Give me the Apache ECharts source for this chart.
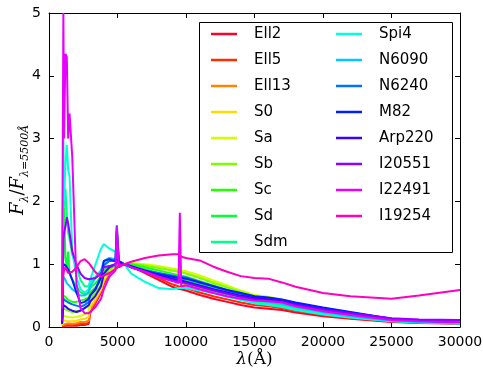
<!DOCTYPE html>
<html><head><meta charset="utf-8">
<script src="https://cdn.jsdelivr.net/npm/echarts@6/dist/echarts.min.js"></script>
<style>html,body{margin:0;padding:0;background:#fff}#c{width:483px;height:370px}</style>
</head><body><div id="c"></div>
<script>
// wavelengths (Angstrom)
const wave = [950,1050,1100,1200,1300,1400,1500,1700,2000,2300,2600,2900,3000,3400,3800,4000,4400,4850,4950,5100,5500,6000,7000,8000,9000,9450,9550,9650,10000,11000,12000,13000,14000,15000,16000,17000,18000,20000,22000,25000,27000,30000];
const names = ['Ell2','Ell5','Ell13','S0','Sa','Sb','Sc','Sd','Sdm','Spi4','N6090','N6240','M82','Arp220','I20551','I22491','I19254'];
const colors = ['#ff0029','#ff2d00','#ff8300','#ffd900','#cfff00','#79ff00','#22ff00','#00ff33','#00ff89','#00ffdf','#00c9ff','#0072ff','#001cff','#3b00ff','#9100ff','#e800ff','#ff00bf'];
const Ell2 = [0.01,0.02,0.02,0.02,0.02,0.02,0.02,0.02,0.02,0.03,0.03,0.05,0.22,0.38,0.55,0.68,0.85,0.93,0.95,0.97,1.00,0.97,0.86,0.75,0.64,0.61,0.61,0.60,0.58,0.51,0.45,0.40,0.35,0.31,0.29,0.27,0.23,0.17,0.13,0.08,0.065,0.05];
const Ell5 = [0.01,0.03,0.03,0.03,0.03,0.03,0.03,0.03,0.04,0.05,0.05,0.07,0.25,0.40,0.57,0.70,0.86,0.93,0.95,0.97,1.00,0.98,0.88,0.78,0.68,0.65,0.65,0.64,0.62,0.55,0.49,0.44,0.39,0.35,0.33,0.30,0.26,0.19,0.14,0.09,0.07,0.055];
const Ell13 = [0.02,0.05,0.05,0.05,0.06,0.06,0.06,0.05,0.06,0.08,0.08,0.10,0.28,0.42,0.58,0.72,0.87,0.94,0.96,0.98,1.00,0.99,0.91,0.83,0.74,0.71,0.70,0.70,0.68,0.61,0.55,0.49,0.44,0.40,0.37,0.34,0.29,0.21,0.16,0.10,0.08,0.06];
const S0 = [0.03,0.10,0.10,0.10,0.10,0.09,0.09,0.09,0.10,0.12,0.13,0.16,0.32,0.45,0.60,0.74,0.88,0.95,0.97,0.98,1.00,1.01,0.98,0.95,0.90,0.88,0.88,0.88,0.86,0.79,0.71,0.63,0.56,0.50,0.47,0.43,0.37,0.28,0.21,0.12,0.09,0.07];
const Sa = [0.04,0.18,0.17,0.17,0.17,0.16,0.16,0.15,0.16,0.18,0.20,0.24,0.38,0.50,0.64,0.77,0.90,0.96,0.98,0.99,1.00,1.02,1.00,0.97,0.93,0.91,0.91,0.90,0.89,0.82,0.74,0.66,0.58,0.51,0.48,0.44,0.38,0.29,0.22,0.13,0.10,0.08];
const Sb = [0.05,0.30,0.29,0.28,0.27,0.26,0.25,0.24,0.25,0.27,0.30,0.33,0.45,0.55,0.68,0.80,0.92,0.97,0.99,1.00,1.00,1.01,0.98,0.94,0.90,0.88,0.88,0.87,0.85,0.78,0.70,0.63,0.56,0.49,0.46,0.42,0.36,0.27,0.20,0.12,0.09,0.07];
const Sc = [0.06,0.50,0.49,0.48,0.45,0.43,0.42,0.40,0.40,0.42,0.44,0.47,0.55,0.63,0.74,0.85,0.94,0.98,1.00,1.00,1.00,1.00,0.95,0.90,0.85,0.83,0.83,0.82,0.80,0.73,0.66,0.59,0.52,0.46,0.43,0.39,0.33,0.25,0.18,0.11,0.08,0.065];
const Sd = [0.08,1.30,1.90,1.10,0.95,1.20,0.85,0.75,0.65,0.55,0.52,0.55,0.62,0.70,0.80,0.90,0.97,1.00,1.02,1.01,1.00,0.98,0.92,0.86,0.80,0.78,0.78,0.77,0.75,0.68,0.62,0.55,0.49,0.43,0.40,0.36,0.31,0.23,0.17,0.10,0.08,0.06];
const Sdm = [0.10,3.00,1.90,2.20,1.80,1.50,1.40,1.15,0.95,0.75,0.65,0.65,0.72,0.80,0.90,1.00,1.05,1.05,1.05,1.02,1.00,0.96,0.88,0.80,0.74,0.72,0.72,0.71,0.70,0.64,0.58,0.52,0.46,0.40,0.37,0.34,0.29,0.22,0.16,0.10,0.08,0.06];
const Spi4 = [0.10,2.50,2.00,2.60,2.90,2.50,2.40,1.20,0.80,0.60,0.55,0.60,0.75,1.00,1.25,1.32,1.25,1.20,1.10,1.02,1.00,0.85,0.72,0.62,0.60,0.62,0.62,0.62,0.62,0.58,0.54,0.48,0.43,0.38,0.35,0.32,0.27,0.20,0.15,0.09,0.07,0.055];
const N6090 = [0.08,0.80,0.78,0.75,0.70,0.68,0.65,0.60,0.55,0.50,0.50,0.55,0.65,0.78,0.90,1.05,1.10,1.08,1.10,1.03,1.00,0.95,0.88,0.82,0.76,0.74,0.74,0.73,0.72,0.66,0.60,0.54,0.48,0.43,0.40,0.37,0.32,0.24,0.17,0.10,0.08,0.06];
const N6240 = [0.06,0.45,0.44,0.42,0.40,0.39,0.38,0.36,0.34,0.32,0.35,0.40,0.50,0.62,0.80,0.98,1.05,1.05,1.62,1.05,1.00,0.96,0.90,0.86,0.82,0.80,0.80,0.80,0.79,0.72,0.65,0.58,0.53,0.48,0.46,0.43,0.38,0.30,0.23,0.13,0.10,0.08];
const M82 = [0.06,1.00,0.99,0.98,0.95,0.92,0.90,0.75,0.55,0.38,0.40,0.45,0.50,0.60,0.80,1.05,1.08,1.05,1.55,1.05,1.00,0.95,0.88,0.84,0.80,0.78,0.78,0.78,0.77,0.71,0.65,0.59,0.54,0.49,0.47,0.44,0.39,0.31,0.24,0.13,0.10,0.08];
const Arp220 = [0.05,0.35,0.34,0.33,0.30,0.29,0.28,0.26,0.24,0.26,0.30,0.35,0.40,0.50,0.65,0.85,0.95,1.00,1.08,1.02,1.00,0.97,0.90,0.83,0.77,0.75,0.75,0.74,0.72,0.66,0.60,0.55,0.50,0.46,0.44,0.41,0.36,0.28,0.22,0.13,0.11,0.09];
const I20551 = [0.10,1.40,1.50,1.60,1.75,1.65,1.50,1.20,1.00,0.85,0.78,0.76,0.76,0.78,0.85,0.95,0.97,1.00,1.05,1.00,1.00,0.95,0.88,0.80,0.74,0.72,0.72,0.71,0.70,0.64,0.58,0.53,0.48,0.44,0.42,0.40,0.35,0.28,0.22,0.14,0.12,0.11];
const I22491 = [0.30,5.00,3.00,4.35,4.30,3.00,3.40,2.70,0.70,0.30,0.22,0.22,0.25,0.32,0.45,0.60,0.80,0.90,1.60,0.95,1.00,0.95,0.88,0.80,0.73,0.70,1.82,0.65,0.66,0.60,0.54,0.49,0.45,0.42,0.41,0.39,0.33,0.25,0.19,0.11,0.09,0.08];
const I19254 = [0.40,0.85,0.90,0.95,0.92,0.86,0.88,0.88,0.95,1.05,1.08,1.02,1.00,0.87,0.80,0.82,0.86,0.92,0.95,0.98,1.00,1.04,1.10,1.14,1.16,1.16,1.15,1.12,1.10,1.06,0.96,0.88,0.81,0.78,0.77,0.71,0.64,0.54,0.49,0.45,0.50,0.59];
const values = [Ell2,Ell5,Ell13,S0,Sa,Sb,Sc,Sd,Sdm,Spi4,N6090,N6240,M82,Arp220,I20551,I22491,I19254];
const xTicks = [0,5000,10000,15000,20000,25000,30000];
const yTicks = [0,1,2,3,4,5];

const chart = echarts.init(document.getElementById('c'), null, {renderer:'canvas'});
const font = 'DejaVu Sans';
const tickCommon = {inside:true, length:5, lineStyle:{color:'#000', width:1}};
const lineCommon = {show:true, onZero:false, lineStyle:{color:'#000', width:1}};
const series = names.map((n,i)=>({
  name:n, type:'line', xAxisIndex:0, yAxisIndex:0,
  data: wave.map((w,j)=>[w, values[i][j]]),
  showSymbol:false, symbol:'none', smooth:false, clip:true,
  lineStyle:{width:2, color:colors[i]}, itemStyle:{color:colors[i]},
  emphasis:{disabled:true}
}));
const legendCommon = {
  orient:'vertical', icon:'rect', itemWidth:26, itemHeight:2.5, itemGap:6,
  textStyle:{fontFamily:font, fontSize:15, color:'#000', lineHeight:20, padding:[0,0,0,12]},
  selectedMode:false, z:20, padding:0
};
chart.setOption({
  animation:false,
  backgroundColor:'#fff',
  grid:{left:49, right:23, top:13, bottom:43, containLabel:false, outerBoundsMode:'none'},
  xAxis:[{
    type:'value', min:xTicks[0], max:xTicks[xTicks.length-1], interval:5000,
    axisLine:lineCommon, axisTick:tickCommon, splitLine:{show:false},
    axisLabel:{fontFamily:font, fontSize:14, color:'#000', margin:8, showMaxLabel:true, showMinLabel:true, hideOverlap:false, formatter:v=>String(v)},
    name:'{g|λ}{n|(Å)}', nameLocation:'middle', nameGap:24, nameMoveOverlap:false,
    nameTextStyle:{rich:{g:{fontFamily:'DejaVu Serif', fontStyle:'italic', fontSize:17, color:'#000'}, n:{fontFamily:'DejaVu Serif', fontSize:17, color:'#000'}}}
  },{
    type:'value', position:'top', min:0, max:30000, interval:5000,
    axisLine:lineCommon, axisTick:tickCommon, axisLabel:{show:false}, splitLine:{show:false}
  }],
  yAxis:[{
    type:'value', min:yTicks[0], max:yTicks[yTicks.length-1], interval:1,
    axisLine:lineCommon, axisTick:tickCommon, splitLine:{show:false},
    axisLabel:{fontFamily:font, fontSize:14, color:'#000', margin:8, formatter:v=>String(v)},
    name:'{i|F}{s|λ}{n|/}{i|F}{s|λ=5500Å}', nameLocation:'middle', nameGap:22, nameRotate:90, nameMoveOverlap:false,
    nameTextStyle:{rich:{
      i:{fontFamily:'DejaVu Serif', fontStyle:'italic', fontSize:18, color:'#000', verticalAlign:'bottom'},
      n:{fontFamily:'DejaVu Serif', fontSize:18, color:'#000', verticalAlign:'bottom'},
      s:{fontFamily:'DejaVu Serif', fontStyle:'italic', fontSize:11, color:'#000', verticalAlign:'bottom', padding:[0,0,-4,0]}
    }}
  },{
    type:'value', position:'right', min:0, max:5, interval:1,
    axisLine:lineCommon, axisTick:tickCommon, axisLabel:{show:false}, splitLine:{show:false}
  }],
  legend:[
    Object.assign({left:211, top:24, data:names.slice(0,9)}, legendCommon),
    Object.assign({left:336, top:24, data:names.slice(9)}, legendCommon)
  ],
  graphic:[{type:'rect', z:10, shape:{x:199.5, y:22.5, width:253, height:230}, style:{fill:'#fff', stroke:'#000', lineWidth:1}}],
  series: series
});
</script></body></html>
